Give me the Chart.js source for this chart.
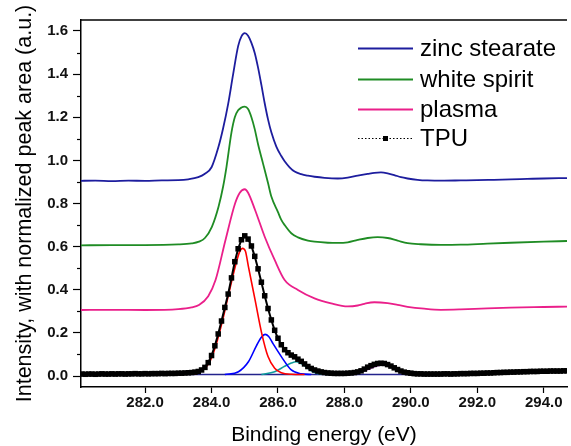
<!DOCTYPE html>
<html>
<head>
<meta charset="utf-8">
<script src="https://cdn.jsdelivr.net/npm/chart.js@4.4.0/dist/chart.umd.min.js"></script>
<style>
  html, body { margin: 0; padding: 0; background: #fff; }
</style>
</head>
<body>
<canvas id="xps" width="571" height="446"></canvas>
<script>
// C 1s spectra, binding energy (eV) and intensity
const zincE = [280.0, 280.5, 281.0, 281.5, 282.0, 282.5, 283.0, 283.3, 283.6, 283.8, 284.0, 284.2, 284.35, 284.5, 284.65, 284.8, 284.9, 285.0, 285.1, 285.2, 285.3, 285.4, 285.5, 285.6, 285.7, 285.8, 285.95, 286.1, 286.2, 286.35, 286.5, 286.7, 286.9, 287.1, 287.4, 287.8, 288.1, 288.4, 288.7, 288.9, 289.1, 289.3, 289.5, 289.7, 289.9, 290.2, 290.5, 291.0, 291.5, 292.0, 292.5, 293.0, 293.5, 294.0, 294.7];
const zincI = [0.905, 0.906, 0.904, 0.906, 0.905, 0.907, 0.908, 0.912, 0.922, 0.938, 0.968, 1.058, 1.15, 1.262, 1.40, 1.53, 1.575, 1.59, 1.578, 1.545, 1.498, 1.43, 1.35, 1.265, 1.19, 1.13, 1.064, 1.02, 0.996, 0.968, 0.948, 0.936, 0.929, 0.924, 0.919, 0.916, 0.920, 0.929, 0.937, 0.942, 0.944, 0.940, 0.932, 0.922, 0.916, 0.910, 0.907, 0.906, 0.907, 0.908, 0.910, 0.912, 0.914, 0.916, 0.918];

const whiteE = [280.0, 281.0, 282.0, 283.0, 283.4, 283.62, 283.8, 284.01, 284.21, 284.35, 284.45, 284.6, 284.7, 284.8, 284.9, 285.0, 285.1, 285.2, 285.3, 285.4, 285.55, 285.7, 285.8, 286.0, 286.1, 286.2, 286.4, 286.6, 286.9, 287.1, 287.5, 287.8, 288.1, 288.4, 288.7, 289.0, 289.3, 289.6, 289.9, 290.3, 290.9, 291.5, 292.3, 293.0, 294.0, 294.7];
const whiteI = [0.606, 0.607, 0.607, 0.610, 0.615, 0.623, 0.640, 0.692, 0.785, 0.880, 0.970, 1.130, 1.200, 1.232, 1.245, 1.249, 1.238, 1.200, 1.145, 1.075, 0.985, 0.895, 0.832, 0.760, 0.724, 0.700, 0.662, 0.643, 0.628, 0.623, 0.618, 0.617, 0.620, 0.631, 0.640, 0.644, 0.640, 0.628, 0.616, 0.611, 0.608, 0.609, 0.614, 0.618, 0.623, 0.626];

const plasmaE = [280.0, 281.0, 282.0, 283.0, 283.4, 283.62, 283.9, 284.12, 284.42, 284.71, 284.85, 285.0, 285.1, 285.31, 285.6, 285.9, 286.2, 286.6, 287.1, 287.6, 288.1, 288.4, 288.6, 288.9, 289.3, 289.6, 289.9, 290.4, 290.9, 291.5, 292.3, 293.0, 294.0, 294.7];
const plasmaI = [0.306, 0.307, 0.306, 0.310, 0.318, 0.329, 0.370, 0.445, 0.631, 0.801, 0.850, 0.866, 0.850, 0.770, 0.646, 0.538, 0.445, 0.399, 0.360, 0.337, 0.323, 0.327, 0.335, 0.342, 0.338, 0.330, 0.321, 0.312, 0.307, 0.309, 0.314, 0.317, 0.320, 0.322];

const tpuE = [
  280.0, 280.1, 280.2, 280.3, 280.4, 280.5, 280.6, 280.7, 280.8, 280.9,
  281.0, 281.1, 281.2, 281.3, 281.4, 281.5, 281.6, 281.7, 281.8, 281.9,
  282.0, 282.1, 282.2, 282.3, 282.4, 282.5, 282.6, 282.7, 282.8, 282.9,
  283.0, 283.1, 283.2, 283.3, 283.4, 283.5, 283.6, 283.7, 283.8, 283.9,
  284.0, 284.1, 284.2, 284.3, 284.4, 284.5, 284.6, 284.7, 284.8, 284.9,
  285.0, 285.1, 285.2, 285.3, 285.4, 285.5, 285.6, 285.7, 285.8, 285.9,
  286.0, 286.1, 286.2, 286.3, 286.4, 286.5, 286.6, 286.7, 286.8, 286.9,
  287.0, 287.1, 287.2, 287.3, 287.4, 287.5, 287.6, 287.7, 287.8, 287.9,
  288.0, 288.1, 288.2, 288.3, 288.4, 288.5, 288.6, 288.7, 288.8, 288.9,
  289.0, 289.1, 289.2, 289.3, 289.4, 289.5, 289.6, 289.7, 289.8, 289.9,
  290.0, 290.1, 290.2, 290.3, 290.4, 290.5, 290.6, 290.7, 290.8, 290.9,
  291.0, 291.1, 291.2, 291.3, 291.4, 291.5, 291.6, 291.7, 291.8, 291.9,
  292.0, 292.1, 292.2, 292.3, 292.4, 292.5, 292.6, 292.7, 292.8, 292.9,
  293.0, 293.1, 293.2, 293.3, 293.4, 293.5, 293.6, 293.7, 293.8, 293.9,
  294.0, 294.1, 294.2, 294.3, 294.4, 294.5, 294.6, 294.7
];
const tpuI = [
  0.008, 0.009, 0.008, 0.009, 0.009, 0.008, 0.009, 0.010, 0.009, 0.009,
  0.010, 0.009, 0.010, 0.010, 0.009, 0.010, 0.010, 0.011, 0.010, 0.010,
  0.011, 0.010, 0.011, 0.011, 0.011, 0.012, 0.011, 0.012, 0.012, 0.012,
  0.013, 0.013, 0.014, 0.015, 0.016, 0.018, 0.021, 0.028, 0.040, 0.062,
  0.095, 0.140, 0.195, 0.255, 0.318, 0.380, 0.455, 0.530, 0.590, 0.632,
  0.650, 0.635, 0.603, 0.555, 0.497, 0.435, 0.372, 0.313, 0.260, 0.212,
  0.175, 0.145, 0.122, 0.108, 0.097, 0.089, 0.078, 0.068, 0.056, 0.044,
  0.035, 0.028, 0.023, 0.019, 0.016, 0.014, 0.013, 0.012, 0.012, 0.012,
  0.012, 0.013, 0.014, 0.016, 0.019, 0.024, 0.032, 0.041, 0.048, 0.054,
  0.058, 0.059, 0.058, 0.053, 0.046, 0.038, 0.030, 0.023, 0.018, 0.015,
  0.013, 0.011, 0.010, 0.010, 0.009, 0.009, 0.009, 0.009, 0.009, 0.009,
  0.010, 0.010, 0.009, 0.010, 0.010, 0.011, 0.011, 0.011, 0.012, 0.012,
  0.012, 0.013, 0.013, 0.014, 0.014, 0.015, 0.016, 0.016, 0.017, 0.017,
  0.018, 0.018, 0.019, 0.019, 0.020, 0.020, 0.021, 0.021, 0.021, 0.022,
  0.022, 0.022, 0.023, 0.023, 0.023, 0.023, 0.024, 0.024
];

// fitted components of the TPU spectrum
const fitCCE = [283.5, 283.92, 284.12, 284.31, 284.51, 284.7, 284.85, 284.93, 285.02, 285.11, 285.31, 285.51, 285.70, 285.90, 286.10, 286.4, 286.8];
const fitCCI = [0.007, 0.059, 0.136, 0.244, 0.376, 0.500, 0.578, 0.592, 0.578, 0.507, 0.353, 0.198, 0.090, 0.036, 0.015, 0.008, 0.007];
const fitCOE = [284.4, 284.81, 285.11, 285.35, 285.5, 285.61, 285.72, 285.85, 286.1, 286.4, 286.7, 287.0];
const fitCOI = [0.007, 0.020, 0.066, 0.140, 0.180, 0.193, 0.183, 0.150, 0.090, 0.028, 0.010, 0.007];
const fitCO2E = [285.5, 285.9, 286.2, 286.4, 286.55, 286.7, 286.9, 287.1, 287.3, 287.6];
const fitCO2I = [0.007, 0.020, 0.045, 0.060, 0.066, 0.058, 0.036, 0.016, 0.009, 0.007];
const fitCOOE = [288.3, 288.7, 289.0, 289.15, 289.3, 289.6, 290.0];
const fitCOOI = [0.007, 0.030, 0.048, 0.051, 0.048, 0.030, 0.007];
const fitBaseE = [283.3, 290.1];
const fitBaseI = [0.007, 0.007];

const xTicks = [282, 284, 286, 288, 290, 292, 294];
const yTicks = [0, 0.2, 0.4, 0.6, 0.8, 1.0, 1.2, 1.4, 1.6];
const yMinor = [0.1, 0.3, 0.5, 0.7, 0.9, 1.1, 1.3, 1.5];

const legendLabels = ['zinc stearate', 'white spirit', 'plasma', 'TPU'];

const pts = (xs, ys) => xs.map((x, i) => ({ x: x, y: ys[i] }));

function curve(label, xs, ys, color, width, order) {
  return {
    label: label,
    data: pts(xs, ys),
    borderColor: color,
    borderWidth: width,
    pointRadius: 0,
    cubicInterpolationMode: 'monotone',
    fill: false,
    order: order
  };
}

Chart.defaults.font.family = "'Liberation Sans', Arial, sans-serif";
Chart.defaults.color = '#000';

const frameAndExtras = {
  id: 'frameAndExtras',
  afterDraw(chart) {
    const { ctx, chartArea, scales: { y } } = chart;
    ctx.save();
    ctx.strokeStyle = '#000';
    // minor ticks on the intensity axis
    ctx.lineWidth = 1.2;
    yMinor.forEach(v => {
      const py = Math.round(y.getPixelForValue(v)) + 0.5;
      ctx.beginPath();
      ctx.moveTo(chartArea.left, py);
      ctx.lineTo(chartArea.left - 4, py);
      ctx.stroke();
    });
    // top of the frame
    ctx.lineWidth = 1.5;
    ctx.beginPath();
    ctx.moveTo(chartArea.left, chartArea.top);
    ctx.lineTo(chartArea.right, chartArea.top);
    ctx.stroke();

    // legend
    const lx = chartArea.left + 277, lw = 55, tx = lx + 62;
    const rowY = [48, 79, 109, 138];
    ctx.font = "24px 'Liberation Sans', Arial, sans-serif";
    ctx.textBaseline = 'middle';
    ctx.fillStyle = '#000';
    legendLabels.forEach((name, i) => {
      const ds = chart.data.datasets.find(d => d.label === name);
      const yy = rowY[i] + 0.5;
      ctx.strokeStyle = ds.borderColor;
      if (name === 'TPU') {
        ctx.lineWidth = 1;
        ctx.setLineDash([1.5, 2]);
        ctx.beginPath(); ctx.moveTo(lx, yy); ctx.lineTo(lx + lw, yy); ctx.stroke();
        ctx.setLineDash([]);
        ctx.fillRect(lx + lw / 2 - 2.5, yy - 2.5, 5, 5);
      } else {
        ctx.lineWidth = 2;
        ctx.beginPath(); ctx.moveTo(lx, yy); ctx.lineTo(lx + lw, yy); ctx.stroke();
      }
      ctx.fillText(name, tx, rowY[i] + 1);
    });
    ctx.restore();
  }
};

new Chart(document.getElementById('xps').getContext('2d'), {
  type: 'line',
  data: {
    datasets: [
      {
        label: 'TPU',
        data: pts(tpuE, tpuI),
        borderColor: '#000',
        borderWidth: 2,
        pointStyle: 'rect',
        pointRadius: 3.9,
        pointBorderWidth: 0,
        pointBackgroundColor: '#000',
        pointBorderColor: '#000',
        fill: false,
        order: 0
      },
      curve('zinc stearate', zincE, zincI, '#1d1d9e', 1.8, 1),
      curve('white spirit', whiteE, whiteI, '#1f8c24', 1.8, 2),
      curve('plasma', plasmaE, plasmaI, '#ea1f8a', 1.8, 3),
      curve('C-C', fitCCE, fitCCI, '#ff0000', 1.6, 4),
      curve('C-O', fitCOE, fitCOI, '#0000ff', 1.6, 5),
      curve('C=O', fitCO2E, fitCO2I, '#109c9c', 1.6, 6),
      curve('O-C=O', fitCOOE, fitCOOI, '#8a1a9a', 1.6, 7),
      curve('background', fitBaseE, fitBaseI, '#23238c', 1.6, 8)
    ]
  },
  options: {
    responsive: false,
    animation: false,
    layout: { padding: { top: 20, right: 0, left: 0, bottom: 0 } },
    plugins: {
      legend: { display: false },
      tooltip: { enabled: false }
    },
    scales: {
      x: {
        type: 'linear',
        min: 280.07,
        max: 294.7,
        afterBuildTicks: s => { s.ticks = xTicks.map(v => ({ value: v })); },
        afterFit: s => { s.height = 59; },
        ticks: {
          callback: v => v.toFixed(1),
          font: { size: 15, weight: 'bold' },
          color: '#111',
          padding: 1,
          maxRotation: 0,
          autoSkip: false
        },
        grid: { drawOnChartArea: false, tickLength: 6, tickColor: '#000', tickWidth: 1.2 },
        border: { color: '#000', width: 1.5 },
        title: {
          display: true,
          text: 'Binding energy (eV)',
          font: { size: 21, lineHeight: 1 },
          color: '#000',
          padding: { top: 0, bottom: 0 }
        }
      },
      y: {
        min: -0.051,
        max: 1.651,
        afterBuildTicks: s => { s.ticks = yTicks.map(v => ({ value: v })); },
        afterFit: s => { s.width = 81; },
        ticks: {
          callback: v => v.toFixed(1),
          font: { size: 15, weight: 'bold' },
          color: '#111',
          padding: 5
        },
        grid: { drawOnChartArea: false, tickLength: 8, tickColor: '#000', tickWidth: 1.2 },
        border: { color: '#000', width: 1.5 },
        title: {
          display: true,
          text: 'Intensity, with normalized peak area (a.u.)',
          font: { size: 21.5, lineHeight: 1 },
          color: '#000',
          padding: { top: 14, bottom: 0 }
        }
      }
    }
  },
  plugins: [frameAndExtras]
});
</script>
</body>
</html>
